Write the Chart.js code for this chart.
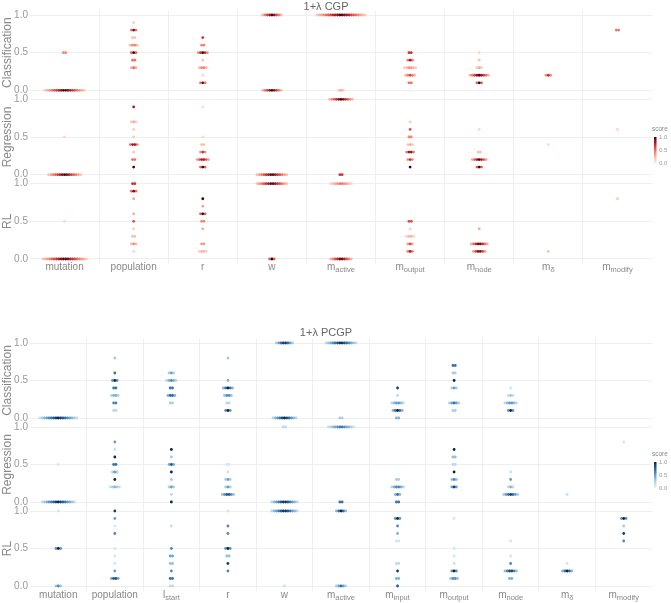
<!DOCTYPE html>
<html>
<head>
<meta charset="utf-8">
<script src="https://cdn.jsdelivr.net/npm/chart.js@4.4.1/dist/chart.umd.min.js"></script>
<style>
  body { margin: 0; background: #fff; }
  #wrap { position: relative; width: 671px; height: 603px; }
  canvas { position: absolute; left: 0; }
</style>
</head>
<body>
<div id="wrap">
  <canvas id="cgp" width="671" height="280" style="top:0"></canvas>
  <canvas id="pcgp" width="671" height="283" style="top:320px"></canvas>
</div>
<script>
// tasks and parameters (name, subscript)
const tasks = ["Classification", "Regression", "RL"];
const cgpParams = [["mutation", ""], ["population", ""], ["r", ""], ["w", ""], ["m", "active"], ["m", "output"], ["m", "node"], ["m", "δ"], ["m", "modify"]];
const pcgpParams = [["mutation", ""], ["population", ""], ["l", "start"], ["r", ""], ["w", ""], ["m", "active"], ["m", "input"], ["m", "output"], ["m", "node"], ["m", "δ"], ["m", "modify"]];
const yTicks = [0, 0.5, 1];
const legendTicks = [1.0, 0.5, 0.0];

// clusters: [param index, value, number of runs, best score]
const cgpClassification = [
  [0,0.5,2,0.6],[0,0.0,18,1.0],
  [1,0.9,1,0.15],[1,0.8,3,0.9],[1,0.7,2,0.3],[1,0.6,4,0.5],[1,0.5,3,1.0],[1,0.4,2,0.7],[1,0.3,3,0.5],
  [2,0.7,1,0.7],[2,0.6,2,0.6],[2,0.5,5,1.0],[2,0.4,1,0.2],[2,0.3,4,0.5],[2,0.2,1,0.1],[2,0.1,3,0.9],
  [3,1.0,9,1.0],[3,0.0,9,1.0],
  [4,1.0,22,1.0],[4,0.0,3,0.3],
  [5,0.5,2,1.0],[5,0.4,3,0.8],[5,0.3,6,0.4],[5,0.2,5,0.6],[5,0.1,2,0.7],
  [6,0.5,1,0.1],[6,0.4,1,0.2],[6,0.3,3,0.3],[6,0.2,9,1.0],[6,0.1,3,1.0],
  [7,0.2,3,0.7],
  [8,0.8,2,0.7]
];
const cgpRegression = [
  [0,0.5,1,0.1],[0,0.0,15,1.0],
  [1,0.9,1,0.8],[1,0.7,3,0.3],[1,0.6,1,0.15],[1,0.5,1,0.15],[1,0.4,4,1.0],[1,0.3,1,0.2],[1,0.2,2,0.7],[1,0.1,1,1.0],
  [2,0.9,1,0.1],[2,0.5,1,0.1],[2,0.4,2,0.3],[2,0.3,3,0.7],[2,0.2,6,0.9],[2,0.1,3,1.0],
  [3,0.0,14,1.0],
  [4,1.0,11,1.0],[4,0.0,2,1.0],
  [5,0.7,1,0.15],[5,0.6,1,0.6],[5,0.5,2,0.6],[5,0.4,3,0.3],[5,0.3,4,1.0],[5,0.2,3,0.7],[5,0.1,1,1.0],
  [6,0.6,1,0.1],[6,0.3,2,0.3],[6,0.2,7,1.0],[6,0.1,3,1.0],
  [7,0.4,1,0.1],
  [8,0.6,1,0.1]
];
const cgpRL = [
  [0,0.5,1,0.1],[0,0.0,20,1.0],
  [1,1.0,2,1.0],[1,0.9,3,0.9],[1,0.8,1,0.3],[1,0.6,1,0.3],[1,0.5,1,0.6],[1,0.4,1,0.15],[1,0.3,2,0.3],[1,0.2,3,0.4],[1,0.1,1,0.1],
  [2,0.8,1,1.0],[2,0.7,1,0.3],[2,0.6,3,1.0],[2,0.5,2,0.6],[2,0.4,1,0.3],[2,0.2,2,0.5],[2,0.1,4,0.3],
  [3,1.0,14,1.0],[3,0.0,3,1.0],
  [4,1.0,10,0.5],[4,0.0,10,1.0],
  [5,0.5,2,0.9],[5,0.4,1,0.15],[5,0.3,4,0.3],[5,0.2,3,0.6],[5,0.1,3,0.8],
  [6,0.4,1,0.3],[6,0.2,8,1.0],[6,0.1,6,1.0],
  [7,0.1,1,0.2],
  [8,0.8,1,0.15]
];
const pcgpClassification = [
  [0,0.0,17,1.0],
  [1,0.8,1,0.3],[1,0.6,1,0.7],[1,0.5,3,1.0],[1,0.4,2,1.0],[1,0.3,4,0.5],[1,0.2,2,0.9],[1,0.1,2,0.3],
  [2,0.6,3,0.5],[2,0.5,5,0.6],[2,0.4,2,1.0],[2,0.3,4,0.9],[2,0.2,2,0.4],
  [3,0.8,1,0.3],[3,0.5,1,0.4],[3,0.4,5,1.0],[3,0.3,4,0.7],[3,0.2,2,0.3],[3,0.1,3,1.0],
  [4,1.0,8,1.0],[4,0.0,11,1.0],
  [5,1.0,14,1.0],[5,0.0,2,0.4],
  [6,0.4,1,0.9],[6,0.3,1,0.2],[6,0.2,6,0.6],[6,0.1,5,1.0],[6,0.0,2,0.6],
  [7,0.7,2,1.0],[7,0.6,2,0.4],[7,0.5,1,1.0],[7,0.4,3,0.5],[7,0.2,5,0.7],[7,0.1,2,0.4],
  [8,0.4,1,0.1],[8,0.3,3,0.3],[8,0.2,6,0.6],[8,0.1,3,1.0]
];
const pcgpRegression = [
  [0,0.5,1,0.1],[0,0.0,15,1.0],
  [1,0.8,1,0.5],[1,0.7,1,0.15],[1,0.6,1,1.0],[1,0.5,2,1.0],[1,0.4,3,0.5],[1,0.3,1,1.0],[1,0.2,5,0.4],
  [2,0.7,1,1.0],[2,0.6,1,0.3],[2,0.5,3,0.8],[2,0.4,1,1.0],[2,0.3,1,0.3],[2,0.2,3,0.5],[2,0.1,1,0.2],[2,0.0,1,1.0],
  [3,0.5,2,0.15],[3,0.4,1,0.15],[3,0.3,3,0.5],[3,0.2,3,0.5],[3,0.1,6,0.9],
  [4,1.0,2,0.3],[4,0.0,12,1.0],
  [5,1.0,12,0.7],[5,0.0,2,1.0],
  [6,0.3,2,0.4],[6,0.2,6,0.7],[6,0.1,3,0.7],[6,0.0,2,1.0],
  [7,0.7,1,1.0],[7,0.6,2,0.5],[7,0.5,2,0.3],[7,0.4,1,1.0],[7,0.3,3,0.6],[7,0.2,3,0.9],
  [8,0.4,1,0.15],[8,0.3,1,0.5],[8,0.2,3,0.4],[8,0.1,7,0.9],
  [9,0.1,1,0.15],
  [10,0.8,1,0.1]
];
const pcgpRL = [
  [0,1.0,1,0.1],[0,0.5,3,1.0],[0,0.0,3,0.6],
  [1,1.0,1,0.9],[1,0.9,1,0.5],[1,0.8,1,0.1],[1,0.7,1,0.6],[1,0.5,1,0.1],[1,0.4,1,0.1],[1,0.3,1,0.1],[1,0.2,1,0.5],[1,0.1,4,1.0],
  [2,0.8,1,0.15],[2,0.5,1,0.6],[2,0.4,2,0.7],[2,0.3,2,0.5],[2,0.2,1,0.6],[2,0.1,2,1.0],[2,0.0,2,0.3],
  [3,1.0,1,0.1],[3,0.8,1,0.6],[3,0.7,1,0.6],[3,0.5,3,1.0],[3,0.4,2,0.5],[3,0.3,1,0.9],[3,0.2,1,0.6],
  [4,1.0,12,1.0],[4,0.0,1,0.15],
  [5,1.0,5,1.0],[5,0.0,5,0.7],
  [6,0.9,3,1.0],[6,0.8,1,0.6],[6,0.7,1,0.4],[6,0.6,2,0.15],[6,0.3,2,0.3],[6,0.2,1,0.9],[6,0.1,2,0.6],[6,0.0,1,0.8],
  [7,0.9,1,0.1],[7,0.5,1,0.1],[7,0.4,1,0.1],[7,0.3,1,0.15],[7,0.2,3,1.0],[7,0.1,4,0.7],
  [8,0.6,1,0.1],[8,0.4,1,0.1],[8,0.3,1,0.6],[8,0.2,6,1.0],[8,0.1,2,0.6],
  [9,0.3,1,0.1],[9,0.2,5,1.0],
  [10,0.9,3,1.0],[10,0.8,1,0.3],[10,0.7,1,0.9],[10,0.6,1,0.6]
];

// colour maps
const reds = [[0,[253,236,230]],[0.25,[249,182,162]],[0.5,[238,108,90]],[0.75,[196,30,38]],[1,[58,5,10]]];
const blues = [[0,[232,242,250]],[0.25,[178,210,232]],[0.5,[100,160,205]],[0.75,[35,100,165]],[1,[8,35,75]]];

function cmap(stops, t){
  t = Math.max(0, Math.min(1, t));
  for (let i = 1; i < stops.length; i++){
    if (t <= stops[i][0]){
      const a = stops[i-1], b = stops[i];
      const f = (t - a[0]) / (b[0] - a[0]);
      const c = a[1].map((v, j) => Math.round(v + (b[1][j] - v) * f));
      return `rgb(${c.join(",")})`;
    }
  }
  return `rgb(${stops[stops.length-1][1].join(",")})`;
}

const PLOT_LEFT = 30, PLOT_RIGHT = 652, DOT_GAP = 2.3;

// lay out each cluster as a horizontal swarm, darkest in the middle
function swarm(rows, nParams, stops){
  const colPx = (PLOT_RIGHT - PLOT_LEFT) / nParams;
  const step = DOT_GAP / colPx;
  const pts = [];
  rows.forEach(([p, v, n, s]) => {
    const half = (n - 1) / 2;
    for (let k = 0; k < n; k++){
      let off;
      if (n % 2) off = Math.ceil(k / 2) * (k % 2 ? 1 : -1);
      else off = (Math.floor(k / 2) + 0.5) * (k % 2 ? -1 : 1);
      const fade = Math.abs(off) / (half + 1);
      pts.push({ x: p + off * step, y: v, s: s * (1 - 0.92 * fade) });
    }
  });
  pts.sort((a, b) => a.s - b.s);
  return { data: pts.map(q => ({ x: q.x, y: q.y })), colors: pts.map(q => cmap(stops, q.s)) };
}

function makeExtras(title, titleY, params, labelY, stops, legend){
  return {
    id: "extras",
    afterDraw(chart){
      const { ctx, scales } = chart;
      ctx.save();
      ctx.textBaseline = "middle";
      ctx.textAlign = "center";
      ctx.fillStyle = "#666";
      ctx.font = '11px "Liberation Sans", Arial, sans-serif';
      ctx.fillText(title, 326, titleY);

      // column labels with subscripts
      ctx.fillStyle = "#888";
      params.forEach(([main, sub], i) => {
        const x = scales.x.getPixelForValue(i);
        ctx.font = '10px "Liberation Sans", Arial, sans-serif';
        const w1 = ctx.measureText(main).width;
        ctx.font = '7.5px "Liberation Sans", Arial, sans-serif';
        const w2 = sub ? ctx.measureText(sub).width : 0;
        const x0 = x - (w1 + w2) / 2;
        ctx.textAlign = "left";
        ctx.font = '10px "Liberation Sans", Arial, sans-serif';
        ctx.fillText(main, x0, labelY);
        if (sub){
          ctx.font = '7.5px "Liberation Sans", Arial, sans-serif';
          ctx.fillText(sub, x0 + w1, labelY + 3);
        }
      });

      // score colourbar
      const { x, top, bottom } = legend;
      ctx.textAlign = "left";
      ctx.fillStyle = "#888";
      ctx.font = '6.5px "Liberation Sans", Arial, sans-serif';
      ctx.fillText("score", x - 2, top - 8);
      const g = ctx.createLinearGradient(0, bottom, 0, top);
      [0, 0.25, 0.5, 0.75, 1].forEach(t => g.addColorStop(t, cmap(stops, t)));
      ctx.fillStyle = g;
      ctx.fillRect(x, top, 2.5, bottom - top);
      ctx.fillStyle = "#999";
      ctx.font = '6px "Liberation Sans", Arial, sans-serif';
      legendTicks.forEach(v => {
        ctx.fillText(v.toFixed(1), x + 5, bottom - v * (bottom - top));
      });
      ctx.restore();
    }
  };
}

function yAxis(title){
  return {
    type: "linear", position: "left", stack: "tasks", stackWeight: 1,
    min: -0.06, max: 1.06,
    afterBuildTicks: s => { s.ticks = yTicks.map(v => ({ value: v })); },
    afterFit: s => { s.width = PLOT_LEFT; },
    ticks: { callback: v => v.toFixed(1), color: "#999", font: { family: '"Liberation Sans", Arial', size: 10 }, padding: 2 },
    grid: { color: "#ebebeb", lineWidth: 0.8, drawTicks: false },
    border: { display: false },
    title: { display: true, text: title, color: "#888", font: { family: '"Liberation Sans", Arial', size: 12 }, padding: 0 }
  };
}

function buildChart(id, params, rows, stops, pad, extras){
  const n = params.length;
  const datasets = rows.map((r, i) => {
    const sw = swarm(r, n, stops);
    return {
      type: "scatter", data: sw.data, yAxisID: "y" + i,
      pointRadius: 1.4, pointHoverRadius: 1.4, pointBorderWidth: 0,
      pointBackgroundColor: sw.colors
    };
  });
  const scales = {
    x: {
      type: "linear", min: -0.5, max: n - 0.5,
      afterBuildTicks: s => { s.ticks = params.slice(1).map((_, i) => ({ value: i + 0.5 })); },
      afterFit: s => { s.height = 0; },
      ticks: { display: false },
      grid: { color: "#ebebeb", lineWidth: 0.8, drawTicks: false },
      border: { display: false }
    }
  };
  // left stacked axes are placed last-defined first, so add them bottom-up
  for (let i = tasks.length - 1; i >= 0; i--) scales["y" + i] = yAxis(tasks[i]);
  return new Chart(document.getElementById(id), {
    type: "scatter",
    data: { datasets },
    options: {
      responsive: false, animation: false,
      layout: { padding: pad },
      plugins: { legend: { display: false }, tooltip: { enabled: false } },
      scales
    },
    plugins: [extras]
  });
}

buildChart("cgp", cgpParams, [cgpClassification, cgpRegression, cgpRL], reds,
  { top: 10.5, bottom: 16.5, left: 0, right: 671 - PLOT_RIGHT },
  makeExtras("1+λ CGP", 7, cgpParams, 267, reds, { x: 654, top: 137, bottom: 163 }));

buildChart("pcgp", pcgpParams, [pcgpClassification, pcgpRegression, pcgpRL], blues,
  { top: 18.5, bottom: 12.5, left: 0, right: 671 - PLOT_RIGHT },
  makeExtras("1+λ PCGP", 13, pcgpParams, 275, blues, { x: 654, top: 142, bottom: 168 }));
</script>
</body>
</html>
